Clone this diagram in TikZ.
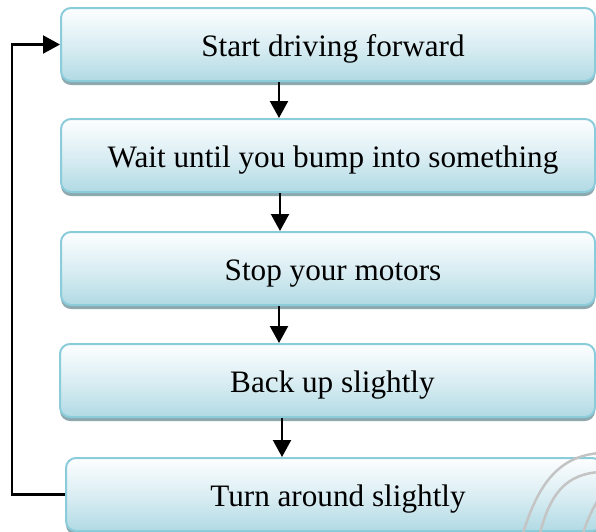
\documentclass[tikz,border=0pt]{standalone}
\usepackage{fontspec}
\setmainfont{Liberation Serif}
\usetikzlibrary{arrows.meta,shadows}
\definecolor{boxborder}{HTML}{8BCCDA}
\definecolor{boxbottom}{HTML}{B1DAE4}
\definecolor{boxtop}{HTML}{FDFEFF}
\definecolor{shadowc}{HTML}{8DA8AF}
\definecolor{decor}{HTML}{C4C4C4}
\newcommand{\steptext}[1]{\raisebox{-12pt}[0pt][0pt]{#1}}
\tikzset{
  stepbox/.style={draw=boxborder, line width=2pt, rounded corners=10pt,
    top color=boxtop, bottom color=boxbottom, middle color=boxtop!55!boxbottom,
    minimum height=73pt, inner sep=0pt,
    drop shadow={shadow xshift=0pt, shadow yshift=-4pt, fill=shadowc, opacity=1},
    font=\fontsize{31.2}{34}\selectfont},
  arr/.style={line width=2.2pt, -{Triangle[width=18pt,length=17pt]}},
  deco/.style={draw=decor, line width=2.5pt}
}
\begin{document}
\begin{tikzpicture}[x=1pt,y=-1pt]
\useasboundingbox (0,0) rectangle (596,531);
\clip (0,0) rectangle (596,531);
\node[stepbox, minimum width=534pt] (b1) at (328,44.5) {\hspace*{10pt}\steptext{Start driving forward}};
\node[stepbox, minimum width=534pt] (b2) at (328,155.5) {\hspace*{10pt}\steptext{Wait until you bump into something}};
\node[stepbox, minimum width=534pt] (b3) at (328,268.5) {\hspace*{10pt}\steptext{Stop your motors}};
\node[stepbox, minimum width=535pt] (b4) at (327.5,380.5) {\hspace*{10pt}\steptext{Back up slightly}};
\node[stepbox, minimum width=536pt] (b5) at (334,494.5) {\hspace*{8pt}\steptext{Turn around slightly}};
\coordinate (xa) at (279,0);
\coordinate (xb) at (280,0);
\coordinate (xc) at (279,0);
\coordinate (xd) at (282,0);
\draw[arr] (b1.south -| xa) -- (b2.north -| xa);
\draw[arr] (b2.south -| xb) -- (b3.north -| xb);
\draw[arr] (b3.south -| xc) -- (b4.north -| xc);
\draw[arr] (b4.south -| xd) -- (b5.north -| xd);
\draw[arr] (b5.west) -- ++(-53,0) |- (b1.west);
\draw[deco] (523,533) .. controls (538,485) and (558,456) .. (600,453);
\draw[deco] (540,533) .. controls (550,495) and (565,474) .. (600,472);
\draw[deco] (583,533) .. controls (588,518) and (594,506) .. (600,497);
\end{tikzpicture}
\end{document}
